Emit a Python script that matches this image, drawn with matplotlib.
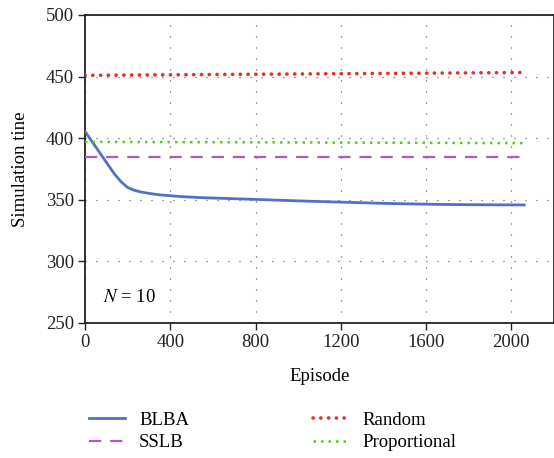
import matplotlib
matplotlib.use("Agg")
import matplotlib.pyplot as plt

plt.rcParams['font.family'] = ['Liberation Serif', 'DejaVu Serif']
plt.rcParams['mathtext.fontset'] = 'stix'

# BLBA learning curve
blba_x = [0, 30, 70, 110, 140, 170, 200, 230, 260, 300, 350, 450, 550, 800, 1000, 1200, 1400, 1600, 1800, 2060]
blba_y = [405.5, 398, 388, 378, 370.5, 364.5, 360, 357.8, 356.4, 355.2, 354, 352.6, 351.7, 350.3, 349.1, 348.1, 347.1, 346.4, 346, 345.8]

# baselines (roughly flat)
base_x = [0, 2060]
sslb_y = [385, 385]
random_y = [451, 453.3]
prop_y = [397, 396]

xticks = [0, 400, 800, 1200, 1600, 2000]
yticks = [250, 300, 350, 400, 450, 500]

fs = 13.5

fig = plt.figure(figsize=(5.54, 4.58), dpi=100)
ax = fig.add_axes([0.1534, 0.2948, 0.8466, 0.6725])

ax.plot(blba_x, blba_y, color='#5470c6', lw=2, label='BLBA', zorder=3)
ax.plot(base_x, sslb_y, color='#b058c8', lw=1.6, dashes=(5.5, 4), label='SSLB', zorder=3)
ax.plot(base_x, random_y, color='#e0302a', lw=2.6, dashes=(0.05, 2.1),
        dash_capstyle='round', label='Random', zorder=3)
ax.plot(base_x, prop_y, color='#5cc81e', lw=1.8, dashes=(1, 2),
        dash_capstyle='butt', label='Proportional', zorder=3)

ax.set_xlim(0, 2200)
ax.set_ylim(250, 500)
ax.set_xticks(xticks)
ax.set_yticks(yticks)
ax.tick_params(direction='out', length=5, width=1, labelsize=fs, colors='#222222', pad=3)
ax.grid(True, color='#444444', lw=0.9, dashes=(0.8, 8))
for s in ax.spines.values():
    s.set_linewidth(1.3)
    s.set_color('#222222')

ax.set_xlabel('Episode', fontsize=fs, labelpad=12)
ax.set_ylabel('Simulation tine', fontsize=fs, labelpad=12)
ax.text(85, 271, '$N$ = 10', fontsize=fs, va='center', ha='left')

fig.legend(loc='upper left', bbox_to_anchor=(0.148, 0.118), ncol=2, frameon=False,
           fontsize=fs, handlelength=1.9, handletextpad=0.75, columnspacing=6.6,
           labelspacing=0.3, borderaxespad=0)

fig.savefig('out.png', dpi=100)
